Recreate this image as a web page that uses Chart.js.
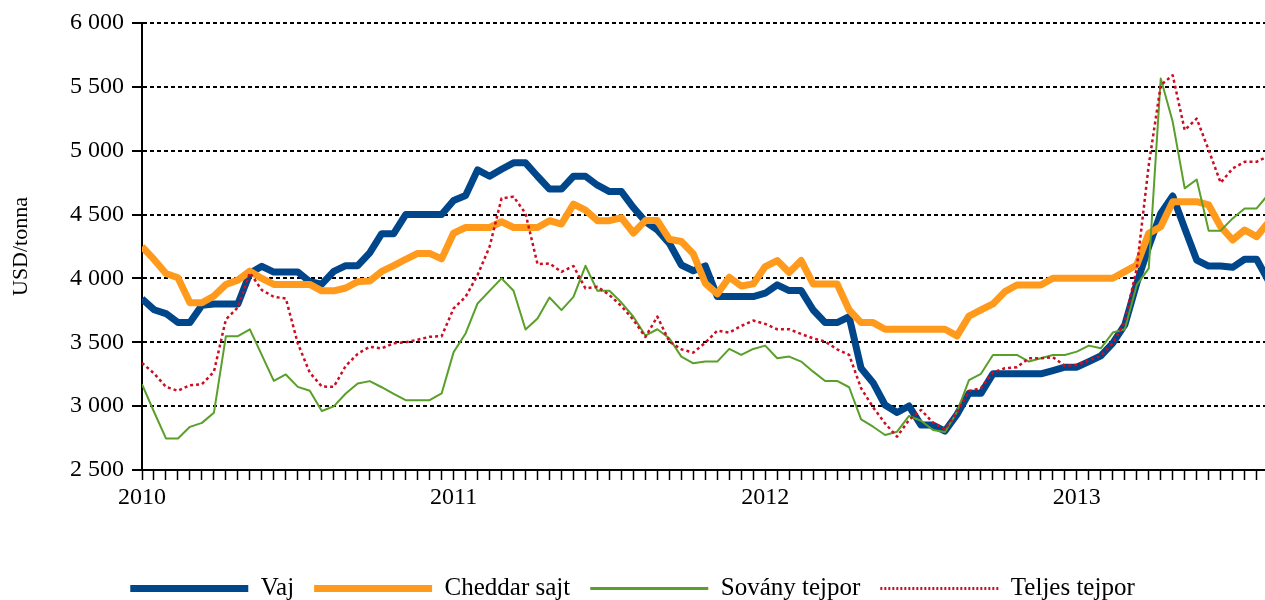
<!DOCTYPE html>
<html>
<head>
<meta charset="utf-8">
<script src="https://cdn.jsdelivr.net/npm/chart.js@4"></script>
<style>
  html, body { margin: 0; padding: 0; background: #fff; overflow: hidden; }
</style>
</head>
<body>
<canvas id="priceChart" width="1265" height="600"></canvas>
<script>
// biweekly quotations, 26 per year, starting January 2010
years = ['2010', '2011', '2012', '2013'];
perYear = 26;

seriesNames = ['Vaj', 'Cheddar sajt', 'Sovány tejpor', 'Teljes tejpor'];

vaj = [3840, 3755, 3725, 3655, 3655, 3790, 3800, 3800, 3800, 4040, 4095, 4050, 4050, 4050, 3975, 3955, 4055, 4100, 4100, 4200,
  4350, 4350, 4500, 4500, 4500, 4500, 4610, 4650, 4850, 4800, 4855, 4905, 4905, 4800, 4700, 4700, 4800, 4800, 4730, 4680,
  4680, 4555, 4445, 4380, 4275, 4105, 4060, 4098, 3858, 3858, 3858, 3858, 3884, 3950, 3905, 3905, 3753, 3654, 3654, 3700,
  3296, 3184, 3009, 2950, 3001, 2852, 2852, 2805, 2935, 3100, 3100, 3253, 3253, 3253, 3253, 3253, 3279, 3305, 3305, 3349,
  3394, 3493, 3636, 3962, 4249, 4509, 4645, 4392, 4144, 4097, 4097, 4087, 4150, 4150, 3980];

cheddar = [4248, 4149, 4039, 4005, 3809, 3809, 3862, 3953, 3987, 4057, 4000, 3953, 3953, 3953, 3953, 3903, 3903, 3925, 3975, 3980,
  4055, 4100, 4150, 4196, 4196, 4153, 4355, 4399, 4399, 4399, 4444, 4399, 4399, 4399, 4452, 4426, 4582, 4535, 4452, 4452,
  4475, 4356, 4453, 4453, 4307, 4289, 4192, 3962, 3879, 4009, 3941, 3957, 4093, 4140, 4046, 4140, 3957, 3957, 3957, 3753,
  3654, 3654, 3602, 3602, 3602, 3602, 3602, 3602, 3550, 3705, 3753, 3800, 3897, 3949, 3949, 3949, 4001, 4001, 4001, 4001,
  4001, 4001, 4053, 4105, 4353, 4405, 4601, 4601, 4601, 4575, 4405, 4301, 4379, 4327, 4440];

sovany = [3172, 2956, 2747, 2747, 2838, 2869, 2948, 3548, 3548, 3601, 3399, 3198, 3248, 3151, 3120, 2962, 2998, 3099, 3178, 3196,
  3148, 3096, 3047, 3047, 3047, 3099, 3423, 3569, 3804, 3903, 4000, 3903, 3600, 3687, 3851, 3752, 3856, 4099, 3903, 3903,
  3811, 3700, 3553, 3602, 3531, 3388, 3335, 3349, 3349, 3448, 3401, 3448, 3474, 3375, 3388, 3349, 3270, 3197, 3197, 3148,
  2897, 2839, 2774, 2800, 2923, 2886, 2813, 2797, 2955, 3203, 3253, 3401, 3401, 3401, 3349, 3375, 3401, 3401, 3427, 3474,
  3453, 3576, 3602, 3949, 4079, 5565, 5226, 4705, 4775, 4374, 4374, 4470, 4548, 4548, 4660];

teljes = [3339, 3256, 3151, 3120, 3164, 3172, 3269, 3679, 3773, 4044, 3909, 3856, 3843, 3491, 3262, 3154, 3151, 3315, 3410, 3465,
  3452, 3493, 3500, 3520, 3543, 3548, 3765, 3856, 4026, 4248, 4627, 4640, 4509, 4112, 4117, 4052, 4097, 3922, 3935, 3870,
  3783, 3675, 3541, 3701, 3505, 3445, 3419, 3497, 3591, 3576, 3628, 3670, 3644, 3602, 3602, 3565, 3531, 3505, 3445, 3401,
  3140, 2991, 2865, 2761, 2892, 2970, 2871, 2819, 2951, 3118, 3141, 3263, 3297, 3305, 3375, 3375, 3383, 3315, 3323, 3357,
  3394, 3493, 3662, 4079, 4887, 5513, 5591, 5161, 5252, 5005, 4749, 4861, 4913, 4913, 4960];

colors = ['#00468b', '#ff9a1c', '#5a9f2a', '#cc0d22'];
widths = [7, 7, 2, 2.5];
dashes = [[], [], [], [3, 3]];
legendWidths = [7, 7, 3, 3];
legendDashes = [[], [], [], [2, 2]];
values = [vaj, cheddar, sovany, teljes];

serif = "'Times New Roman', 'Liberation Serif', serif";

function toPoints(arr){
  return arr.map(function(v, i){ return {x: i, y: v}; });
}

function spaced(v){
  return String(v).replace(/\B(?=(\d{3})+(?!\d))/g, ' ');
}

datasets = [];
for(var i = 0; i < 4; i++){
  datasets.push({
    label: seriesNames[i],
    data: toPoints(values[i]),
    borderColor: colors[i],
    backgroundColor: colors[i],
    borderWidth: widths[i],
    borderDash: dashes[i],
    fill: false,
    order: 3 - i  // later series drawn on top, like the original
  });
}

function legendLabels(chart){
  var items = Chart.defaults.plugins.legend.labels.generateLabels(chart);
  items.forEach(function(item){
    var k = item.datasetIndex;
    item.lineWidth = legendWidths[k];
    item.lineDash = legendDashes[k];
    item.strokeStyle = colors[k];
  });
  return items;
}

new Chart(document.getElementById('priceChart'), {
  type: 'line',
  data: { datasets: datasets },
  options: {
    responsive: false,
    animation: false,
    devicePixelRatio: 1,
    layout: { padding: { top: 23, right: 0, bottom: -11, left: 0 } },
    elements: {
      point: { radius: 0, hoverRadius: 0 },
      line: { tension: 0, borderJoinStyle: 'round' }
    },
    plugins: {
      tooltip: { enabled: false },
      legend: {
        position: 'bottom',
        labels: {
          usePointStyle: true,
          pointStyle: 'line',
          pointStyleWidth: 118,
          padding: 20,
          color: '#000',
          font: { family: serif, size: 25 },
          generateLabels: legendLabels,
          sort: function(a, b){ return a.datasetIndex - b.datasetIndex; }
        }
      }
    },
    scales: {
      x: {
        type: 'linear',
        min: 0,
        max: 93.7,
        afterFit: function(s){ s.height = 86; },
        grid: { drawOnChartArea: false, drawTicks: true, tickLength: 10, tickWidth: 1.5, tickColor: '#000' },
        border: { color: '#000', width: 2 },
        ticks: {
          stepSize: 1,
          maxTicksLimit: 200,
          autoSkip: false,
          includeBounds: false,
          maxRotation: 0,
          padding: 3,
          color: '#000',
          font: { family: serif, size: 24 },
          callback: function(v){
            return v % perYear === 0 ? years[v / perYear] : '';
          }
        }
      },
      y: {
        min: 2500,
        max: 6000,
        afterFit: function(s){ s.width = 142; },
        grid: { color: '#000', lineWidth: 2, tickLength: 10 },
        border: { color: '#000', width: 2, dash: [4, 3] },
        ticks: {
          stepSize: 500,
          padding: 8,
          color: '#000',
          font: { family: serif, size: 24 },
          callback: function(v){ return spaced(v); }
        },
        title: {
          display: true,
          text: 'USD/tonna',
          color: '#000',
          font: { family: serif, size: 22 },
          padding: { top: 8, bottom: 0 }
        }
      }
    }
  }
});
</script>
</body>
</html>
